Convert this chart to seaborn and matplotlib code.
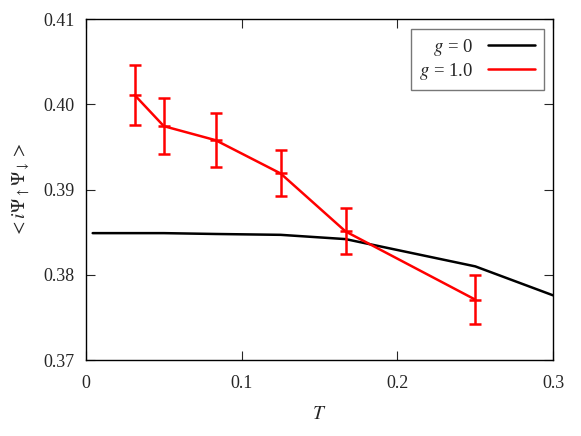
import numpy as np
import pandas as pd
import matplotlib
matplotlib.use("Agg")
import matplotlib.pyplot as plt
import seaborn as sns

# Data
T_g0 = [0.0043, 0.03125, 0.05, 0.0833, 0.125, 0.1667, 0.25, 0.3]
val_g0 = [0.3849, 0.3849, 0.3849, 0.3848, 0.3847, 0.3842, 0.3810, 0.3776]

T_g1 = [0.03125, 0.05, 0.0833, 0.125, 0.1667, 0.25]
val_g1 = [0.4011, 0.39745, 0.3958, 0.3919, 0.3851, 0.3771]
err_g1 = [0.0035, 0.0033, 0.0032, 0.0027, 0.0027, 0.0029]

xticks = [0, 0.1, 0.2, 0.3]
xticklabels = ["0", "0.1", "0.2", "0.3"]
yticks = [0.37, 0.38, 0.39, 0.40, 0.41]
yticklabels = ["0.37", "0.38", "0.39", "0.40", "0.41"]

sns.set_style("ticks")
plt.rcParams["font.family"] = ["Liberation Serif", "DejaVu Serif"]
plt.rcParams["mathtext.fontset"] = "stix"
plt.rcParams["xtick.direction"] = "in"
plt.rcParams["ytick.direction"] = "in"

fig = plt.figure(figsize=(5.81, 4.36), dpi=100)
ax = fig.add_axes([0.148, 0.174, 0.804, 0.782])

df0 = pd.DataFrame({"T": T_g0, "v": val_g0})
df1 = pd.DataFrame({"T": T_g1, "v": val_g1})

sns.lineplot(data=df0, x="T", y="v", ax=ax, color="black", lw=1.8,
             label=r"$g$ = 0")
sns.lineplot(data=df1, x="T", y="v", ax=ax, color="red", lw=1.8,
             label=r"$g$ = 1.0")
ax.errorbar(T_g1, val_g1, yerr=err_g1, fmt="none", ecolor="red",
            elinewidth=1.8, capsize=4.2, capthick=1.8)
ax.plot(T_g1, val_g1, ls="none", marker="_", ms=8.5, mew=1.8, color="red")

ax.set_xlim(0, 0.3)
ax.set_ylim(0.37, 0.41)
ax.set_xticks(xticks)
ax.set_xticklabels(xticklabels)
ax.set_yticks(yticks)
ax.set_yticklabels(yticklabels)
ax.tick_params(axis="both", which="both", direction="in", top=True,
               right=True, labelsize=13, length=6.5, width=0.8)
ax.tick_params(axis="x", pad=11)
ax.tick_params(axis="y", pad=8)
for s in ax.spines.values():
    s.set_visible(True)
    s.set_linewidth(1.0)
    s.set_color("black")

ax.set_xlabel(r"$T$", fontsize=14, labelpad=10)
ax.set_ylabel(r"$<i\Psi_\uparrow\Psi_\downarrow>$", fontsize=14, labelpad=8)

leg = ax.legend(loc="upper right", markerfirst=False, fontsize=13.5,
                frameon=True, fancybox=False, edgecolor="#555555",
                borderaxespad=0.5, handlelength=2.5, borderpad=0.45,
                labelspacing=0.15, handletextpad=0.8)
leg.get_frame().set_linewidth(1.0)

fig.savefig("out.png", dpi=100)
